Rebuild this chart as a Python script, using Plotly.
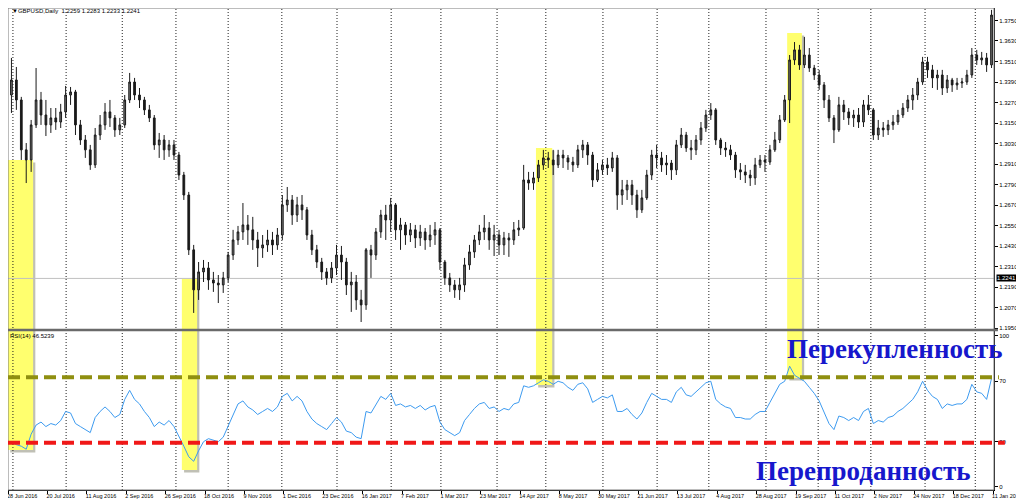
import plotly.graph_objects as go

# ---------------- data ----------------
date_labels = ["28 Jun 2016", "20 Jul 2016", "11 Aug 2016", "2 Sep 2016", "26 Sep 2016",
               "18 Oct 2016", "9 Nov 2016", "1 Dec 2016", "23 Dec 2016", "16 Jan 2017",
               "7 Feb 2017", "1 Mar 2017", "23 Mar 2017", "14 Apr 2017", "8 May 2017",
               "30 May 2017", "21 Jun 2017", "13 Jul 2017", "4 Aug 2017", "28 Aug 2017",
               "19 Sep 2017", "11 Oct 2017", "2 Nov 2017", "24 Nov 2017", "18 Dec 2017",
               "11 Jan 2018"]
date_label_pos = [8 * k - 0.69 for k in range(len(date_labels))]

price_ticks = [1.1950, 1.2070, 1.2190, 1.2310, 1.2430, 1.2550, 1.2670, 1.2790,
               1.2910, 1.3030, 1.3150, 1.3270, 1.3390, 1.3510, 1.3630, 1.3750]
rsi_ticks = [0, 30, 70, 100]

month_marks = [0.3, 11.1, 22.5, 33.4, 44.0, 54.9, 66.1, 77.1, 87.2, 98.6, 108.5,
               120.1, 131.1, 141.6, 153.2, 163.8, 174.5, 185.5, 195.7]

opens = [1.3314, 1.3402, 1.3285, 1.2993, 1.2934, 1.3139, 1.3285, 1.3197, 1.3139, 1.3180,
         1.3156, 1.3215, 1.3314, 1.3332, 1.3139, 1.3051, 1.2993, 1.2905, 1.3080, 1.3139,
         1.3215, 1.3180, 1.3110, 1.3139, 1.3285, 1.3390, 1.3314, 1.3285, 1.3227, 1.3180,
         1.3022, 1.3051, 1.2993, 1.3022, 1.2963, 1.2846, 1.2729, 1.2408, 1.2174, 1.2279,
         1.2302, 1.2232, 1.2214, 1.2203, 1.2244, 1.2378, 1.2466, 1.2513, 1.2554, 1.2525,
         1.2466, 1.2419, 1.2437, 1.2466, 1.2437, 1.2495, 1.2671, 1.2700, 1.2612, 1.2671,
         1.2642, 1.2495, 1.2408, 1.2337, 1.2279, 1.2244, 1.2302, 1.2378, 1.2337, 1.2203,
         1.2220, 1.2115, 1.2086, 1.2408, 1.2378, 1.2513, 1.2612, 1.2583, 1.2671, 1.2525,
         1.2554, 1.2495, 1.2525, 1.2478, 1.2513, 1.2466, 1.2495, 1.2525, 1.2337, 1.2244,
         1.2203, 1.2174, 1.2203, 1.2320, 1.2396, 1.2466, 1.2513, 1.2536, 1.2466, 1.2495,
         1.2437, 1.2478, 1.2466, 1.2525, 1.2536, 1.2817, 1.2799, 1.2829, 1.2905, 1.2946,
         1.2934, 1.2905, 1.2963, 1.2946, 1.2922, 1.2905, 1.2993, 1.3022, 1.2963, 1.2817,
         1.2876, 1.2905, 1.2887, 1.2946, 1.2729, 1.2759, 1.2788, 1.2729, 1.2642, 1.2712,
         1.2846, 1.2963, 1.2946, 1.2905, 1.2916, 1.2876, 1.3022, 1.3080, 1.3004, 1.2993,
         1.3051, 1.3121, 1.3197, 1.3227, 1.3051, 1.3004, 1.2993, 1.2963, 1.2876, 1.2864,
         1.2846, 1.2829, 1.2905, 1.2934, 1.2922, 1.2993, 1.3051, 1.3168, 1.3285, 1.3519,
         1.3578, 1.3490, 1.3548, 1.3472, 1.3431, 1.3373, 1.3285, 1.3180, 1.3110, 1.3256,
         1.3215, 1.3180, 1.3197, 1.3156, 1.3256, 1.3227, 1.3080, 1.3121, 1.3110, 1.3139,
         1.3156, 1.3197, 1.3238, 1.3285, 1.3314, 1.3390, 1.3507, 1.3461, 1.3414, 1.3431,
         1.3355, 1.3402, 1.3373, 1.3384, 1.3390, 1.3431, 1.3548, 1.3519, 1.3531, 1.3490]

highs = [1.3531, 1.3478, 1.3303, 1.3033, 1.3168, 1.3472, 1.3332, 1.3285, 1.3238, 1.3238,
         1.3262, 1.3367, 1.3361, 1.3344, 1.3168, 1.3080, 1.3022, 1.3121, 1.3197, 1.3267,
         1.3285, 1.3197, 1.3180, 1.3314, 1.3443, 1.3414, 1.3355, 1.3303, 1.3256, 1.3197,
         1.3092, 1.3080, 1.3051, 1.3051, 1.2981, 1.2864, 1.2747, 1.2437, 1.2337, 1.2349,
         1.2337, 1.2279, 1.2261, 1.2279, 1.2396, 1.2525, 1.2548, 1.2682, 1.2612, 1.2601,
         1.2513, 1.2495, 1.2525, 1.2513, 1.2536, 1.2729, 1.2776, 1.2729, 1.2718, 1.2729,
         1.2659, 1.2525, 1.2437, 1.2361, 1.2302, 1.2337, 1.2437, 1.2431, 1.2361, 1.2279,
         1.2261, 1.2174, 1.2419, 1.2437, 1.2536, 1.2642, 1.2671, 1.2712, 1.2682, 1.2595,
         1.2571, 1.2565, 1.2554, 1.2554, 1.2536, 1.2554, 1.2571, 1.2536, 1.2349, 1.2273,
         1.2232, 1.2244, 1.2361, 1.2437, 1.2495, 1.2554, 1.2612, 1.2571, 1.2554, 1.2525,
         1.2513, 1.2507, 1.2571, 1.2583, 1.2905, 1.2864, 1.2864, 1.2934, 1.2993, 1.2981,
         1.2993, 1.2993, 1.2993, 1.2963, 1.2952, 1.3022, 1.3051, 1.3039, 1.2981, 1.2916,
         1.2934, 1.2946, 1.2981, 1.2963, 1.2817, 1.2817, 1.2817, 1.2759, 1.2759, 1.2876,
         1.2993, 1.3022, 1.2981, 1.2963, 1.2934, 1.3051, 1.3121, 1.3098, 1.3051, 1.3080,
         1.3156, 1.3227, 1.3267, 1.3238, 1.3063, 1.3039, 1.3022, 1.2981, 1.2916, 1.2905,
         1.2876, 1.2946, 1.2963, 1.2963, 1.3022, 1.3098, 1.3197, 1.3314, 1.3548, 1.3624,
         1.3607, 1.3654, 1.3589, 1.3490, 1.3461, 1.3390, 1.3314, 1.3197, 1.3303, 1.3285,
         1.3238, 1.3227, 1.3238, 1.3285, 1.3314, 1.3238, 1.3168, 1.3156, 1.3168, 1.3197,
         1.3227, 1.3267, 1.3314, 1.3355, 1.3414, 1.3537, 1.3537, 1.3490, 1.3461, 1.3461,
         1.3431, 1.3414, 1.3414, 1.3414, 1.3461, 1.3589, 1.3578, 1.3566, 1.3560, 1.3812]

lows = [1.3209, 1.3227, 1.2934, 1.2799, 1.2864, 1.3121, 1.3139, 1.3074, 1.3092, 1.3110,
        1.3121, 1.3180, 1.3256, 1.3080, 1.3022, 1.2946, 1.2876, 1.2887, 1.3051, 1.3110,
        1.3127, 1.3069, 1.3080, 1.3121, 1.3267, 1.3285, 1.3238, 1.3197, 1.3156, 1.2993,
        1.2946, 1.2934, 1.2952, 1.2934, 1.2817, 1.2700, 1.2378, 1.2039, 1.2115, 1.2220,
        1.2174, 1.2162, 1.2097, 1.2156, 1.2220, 1.2349, 1.2437, 1.2466, 1.2437, 1.2408,
        1.2308, 1.2361, 1.2396, 1.2378, 1.2408, 1.2466, 1.2630, 1.2554, 1.2571, 1.2583,
        1.2466, 1.2378, 1.2302, 1.2232, 1.2203, 1.2214, 1.2261, 1.2232, 1.2144, 1.2045,
        1.2057, 1.1986, 1.2057, 1.2244, 1.2349, 1.2478, 1.2466, 1.2513, 1.2466, 1.2408,
        1.2437, 1.2454, 1.2419, 1.2431, 1.2408, 1.2425, 1.2437, 1.2291, 1.2203, 1.2162,
        1.2127, 1.2115, 1.2162, 1.2291, 1.2361, 1.2437, 1.2466, 1.2408, 1.2372, 1.2378,
        1.2378, 1.2367, 1.2437, 1.2489, 1.2525, 1.2759, 1.2759, 1.2805, 1.2876, 1.2887,
        1.2846, 1.2887, 1.2887, 1.2876, 1.2864, 1.2887, 1.2946, 1.2905, 1.2776, 1.2805,
        1.2846, 1.2846, 1.2864, 1.2642, 1.2671, 1.2700, 1.2671, 1.2595, 1.2624, 1.2700,
        1.2817, 1.2887, 1.2864, 1.2846, 1.2817, 1.2846, 1.3004, 1.2981, 1.2934, 1.2963,
        1.3022, 1.3098, 1.3168, 1.3022, 1.2963, 1.2952, 1.2934, 1.2829, 1.2817, 1.2799,
        1.2782, 1.2788, 1.2887, 1.2864, 1.2905, 1.2981, 1.3033, 1.3156, 1.3150, 1.3490,
        1.3461, 1.3472, 1.3449, 1.3402, 1.3344, 1.3238, 1.3156, 1.3033, 1.3098, 1.3168,
        1.3139, 1.3127, 1.3121, 1.3127, 1.3197, 1.3051, 1.3051, 1.3069, 1.3080, 1.3110,
        1.3139, 1.3180, 1.3215, 1.3227, 1.3285, 1.3373, 1.3414, 1.3355, 1.3344, 1.3314,
        1.3326, 1.3332, 1.3344, 1.3355, 1.3373, 1.3414, 1.3490, 1.3490, 1.3449, 1.3472]

closes = [1.3402, 1.3285, 1.2993, 1.2934, 1.3139, 1.3285, 1.3197, 1.3139, 1.3180, 1.3156,
          1.3215, 1.3314, 1.3332, 1.3139, 1.3051, 1.2993, 1.2905, 1.3080, 1.3139, 1.3215,
          1.3180, 1.3110, 1.3139, 1.3285, 1.3390, 1.3314, 1.3285, 1.3227, 1.3180, 1.3022,
          1.3051, 1.2993, 1.3022, 1.2963, 1.2846, 1.2729, 1.2408, 1.2174, 1.2279, 1.2302,
          1.2232, 1.2214, 1.2203, 1.2244, 1.2378, 1.2466, 1.2513, 1.2554, 1.2525, 1.2466,
          1.2419, 1.2437, 1.2466, 1.2437, 1.2495, 1.2671, 1.2700, 1.2612, 1.2671, 1.2642,
          1.2495, 1.2408, 1.2337, 1.2279, 1.2244, 1.2302, 1.2378, 1.2337, 1.2203, 1.2220,
          1.2115, 1.2086, 1.2408, 1.2378, 1.2513, 1.2612, 1.2583, 1.2671, 1.2525, 1.2554,
          1.2495, 1.2525, 1.2478, 1.2513, 1.2466, 1.2495, 1.2525, 1.2337, 1.2244, 1.2203,
          1.2174, 1.2203, 1.2320, 1.2396, 1.2466, 1.2513, 1.2536, 1.2466, 1.2495, 1.2437,
          1.2478, 1.2466, 1.2525, 1.2536, 1.2817, 1.2799, 1.2829, 1.2905, 1.2946, 1.2934,
          1.2905, 1.2963, 1.2946, 1.2922, 1.2905, 1.2993, 1.3022, 1.2963, 1.2817, 1.2876,
          1.2905, 1.2887, 1.2946, 1.2729, 1.2759, 1.2788, 1.2729, 1.2642, 1.2712, 1.2846,
          1.2963, 1.2946, 1.2905, 1.2916, 1.2876, 1.3022, 1.3080, 1.3004, 1.2993, 1.3051,
          1.3121, 1.3197, 1.3227, 1.3051, 1.3004, 1.2993, 1.2963, 1.2876, 1.2864, 1.2846,
          1.2829, 1.2905, 1.2934, 1.2922, 1.2993, 1.3051, 1.3168, 1.3285, 1.3519, 1.3578,
          1.3490, 1.3548, 1.3472, 1.3431, 1.3373, 1.3285, 1.3180, 1.3110, 1.3256, 1.3215,
          1.3180, 1.3197, 1.3156, 1.3256, 1.3227, 1.3080, 1.3121, 1.3110, 1.3139, 1.3156,
          1.3197, 1.3238, 1.3285, 1.3314, 1.3390, 1.3507, 1.3461, 1.3414, 1.3431, 1.3355,
          1.3402, 1.3373, 1.3384, 1.3390, 1.3431, 1.3548, 1.3519, 1.3531, 1.3490, 1.3782]

rsi_values = [30, 28, 27, 25, 35, 41, 43, 40, 42, 41,
              44, 50, 49, 42, 40, 38, 36, 46, 50, 53,
              50, 46, 48, 58, 64, 58, 55, 50, 46, 40,
              43, 41, 44, 40, 34, 27, 20, 17, 24, 30,
              32, 31, 30, 33, 40, 47, 55, 57, 53, 51,
              48, 50, 52, 50, 53, 60, 62, 57, 60, 57,
              50, 45, 42, 40, 38, 42, 46, 43, 37, 36,
              33, 32, 50, 49, 55, 60, 58, 62, 54, 55,
              53, 54, 52, 54, 51, 53, 54, 43, 38, 36,
              34, 36, 44, 48, 52, 55, 56, 52, 53, 50,
              52, 51, 55, 56, 67, 66, 67, 69, 71, 70,
              68, 70, 69, 66, 64, 68, 69, 65, 56, 58,
              60, 59, 61, 50, 50, 52, 48, 45, 49, 56,
              62, 60, 58, 58, 56, 63, 66, 61, 60, 63,
              66, 69, 70, 58, 55, 53, 52, 46, 46, 45,
              45, 48, 50, 50, 56, 62, 68, 70, 80, 74,
              72, 70, 66, 62, 57, 50, 42, 38, 47, 46,
              44, 46, 44, 50, 52, 42, 44, 43, 46, 47,
              50, 52, 55, 58, 63, 70, 64, 60, 58, 52,
              55, 54, 55, 55, 58, 68, 63, 62, 58, 72]

bar_index = list(range(len(closes)))
last_price = 1.2241
header_text = "▼GBPUSD,Daily  1.2259 1.2283 1.2233 1.2241"
rsi_header = "RSI(14) 46.5239"
overbought_line = 72.6
oversold_line = 29.3
highlight_spans = [(-0.7, 4.4, 0.0830, 0.6846), (34.6, 37.7, 0.0415, 0.4378),
                   (106.5, 109.8, 0.2178, 0.7095), (157.5, 160.5, 0.2324, 0.9481)]

# ---------------- figure ----------------
AX_FONT = dict(family="Liberation Sans, Arial, sans-serif", size=6, color="black")
DATE_FONT = dict(family="Liberation Sans, Arial, sans-serif", size=5.5, color="black")

fig = go.Figure()
fig.add_trace(go.Candlestick(
    x=bar_index, open=opens, high=highs, low=lows, close=closes,
    xaxis="x", yaxis="y",
    increasing=dict(line=dict(color="#1a1a1a", width=1), fillcolor="#6e6e6e"),
    decreasing=dict(line=dict(color="#1a1a1a", width=1), fillcolor="#1a1a1a"),
    whiskerwidth=0, showlegend=False, hoverinfo="skip"))
fig.add_trace(go.Scatter(
    x=bar_index, y=rsi_values, xaxis="x", yaxis="y2", mode="lines",
    line=dict(color="#3d9bf0", width=1), showlegend=False, hoverinfo="skip"))

shapes = []
# yellow highlight bars (shadow + body)
for x0, x1, y0, y1 in highlight_spans:
    shapes.append(dict(type="rect", xref="x", yref="paper", x0=x0 + 0.45, x1=x1 + 0.45,
                       y0=y0 - 0.005, y1=y1 - 0.005, fillcolor="rgba(140,140,120,0.55)",
                       line=dict(width=0), layer="below"))
    shapes.append(dict(type="rect", xref="x", yref="paper", x0=x0, x1=x1, y0=y0, y1=y1,
                       fillcolor="#ffff6e", line=dict(width=0), layer="below"))
# monthly separators
for m in month_marks:
    shapes.append(dict(type="line", xref="x", yref="paper", x0=m, x1=m, y0=0, y1=1,
                       line=dict(color="#202020", width=1, dash="1px,2px"), layer="below"))
# last price line
shapes.append(dict(type="line", xref="paper", yref="y", x0=0, x1=1, y0=last_price,
                   y1=last_price, line=dict(color="#c0c0c0", width=1), layer="below"))
# panel frame and separator
shapes.append(dict(type="rect", xref="paper", yref="paper", x0=0, x1=1, y0=0, y1=1,
                   line=dict(color="#7a7a7a", width=1), layer="above"))
shapes.append(dict(type="line", xref="paper", yref="paper", x0=0, x1=1.004, y0=0.332,
                   y1=0.332, line=dict(color="#6a6a6a", width=2.5), layer="above"))
# hand-drawn level lines
shapes.append(dict(type="line", xref="paper", yref="y2", x0=0, x1=1.005,
                   y0=overbought_line, y1=overbought_line,
                   line=dict(color="#8f8f10", width=4, dash="12px,6px"), layer="above"))
shapes.append(dict(type="line", xref="paper", yref="y2", x0=0, x1=1.011,
                   y0=oversold_line, y1=oversold_line,
                   line=dict(color="#f01818", width=4, dash="12px,6px"), layer="above"))

annotations = [
    dict(text=header_text, xref="paper", yref="paper", x=0.002, y=0.9948, xanchor="left",
         yanchor="middle", showarrow=False, font=AX_FONT),
    dict(text=rsi_header, xref="paper", yref="paper", x=0.0, y=0.3195, xanchor="left",
         yanchor="middle", showarrow=False, font=AX_FONT),
    dict(text="%.4f" % last_price, xref="paper", yref="y", x=1.0, y=last_price,
         xanchor="left", yanchor="middle", xshift=2, showarrow=False, bgcolor="black",
         borderpad=0, font=dict(family=AX_FONT["family"], size=6, color="white")),
    dict(text="<b>Перекупленность</b>", xref="paper", yref="paper", x=0.8996, y=0.293,
         xanchor="center", yanchor="middle", showarrow=False,
         font=dict(family="Liberation Serif, Times New Roman, serif", size=27, color="#1717cc")),
    dict(text="<b>Перепроданность</b>", xref="paper", yref="paper", x=0.868, y=0.040,
         xanchor="center", yanchor="middle", showarrow=False,
         font=dict(family="Liberation Serif, Times New Roman, serif", size=27, color="#1717cc")),
]

fig.update_layout(
    width=1024, height=503,
    margin=dict(l=0, r=38, t=0, b=21, pad=0, autoexpand=False),
    paper_bgcolor="white", plot_bgcolor="white",
    showlegend=False, boxgap=0.5,
    shapes=shapes, annotations=annotations,
    xaxis=dict(domain=[0, 1], anchor="y2", range=[-0.70, 199.5], showgrid=False,
               zeroline=False, showline=True, linecolor="black", linewidth=1,
               tickmode="array", tickvals=date_label_pos, ticktext=date_labels,
               ticks="outside", ticklen=3, tickcolor="black", tickangle=0,
               ticklabelposition="outside right", ticklabelshift=-2,
               ticklabeloverflow="allow",
               tickfont=DATE_FONT, automargin=False,
               rangeslider=dict(visible=False), fixedrange=True),
    yaxis=dict(domain=[0.334, 1], anchor="x", side="right", range=[1.1945, 1.3823],
               showgrid=False, zeroline=False, showline=True, linecolor="black",
               tickmode="array", tickvals=price_ticks,
               ticktext=["%.4f" % v for v in price_ticks], automargin=False,
               ticks="outside", ticklen=3, tickcolor="black", tickfont=AX_FONT),
    yaxis2=dict(domain=[0, 0.3299], anchor="x", side="right", range=[-2.0, 103.3],
                showgrid=False, zeroline=False, showline=True, linecolor="black",
                tickmode="array", tickvals=rsi_ticks, automargin=False,
                ticktext=[str(v) for v in rsi_ticks],
                ticks="outside", ticklen=3, tickcolor="black", tickfont=AX_FONT),
)

fig.write_html("out.html")
